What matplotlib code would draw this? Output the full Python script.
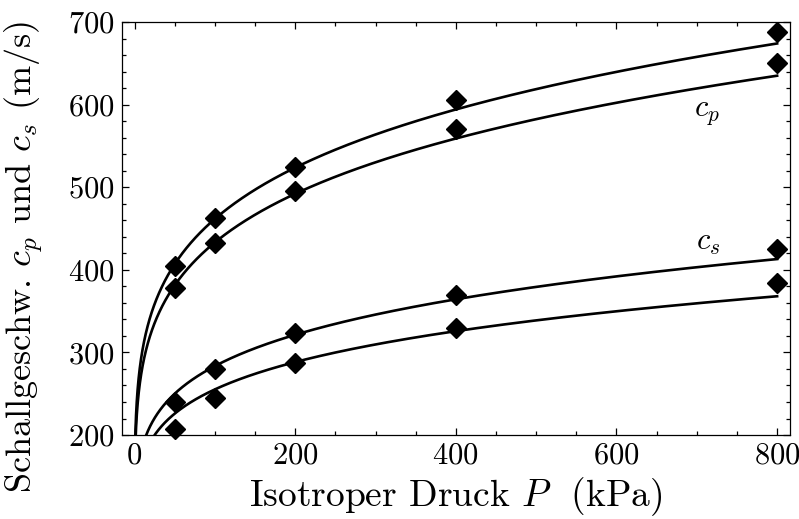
import numpy as np
import matplotlib
matplotlib.use("Agg")
import matplotlib.pyplot as plt
from matplotlib.ticker import MultipleLocator

plt.rcParams['font.family'] = 'cmr10'
plt.rcParams['mathtext.fontset'] = 'cm'
plt.rcParams['axes.unicode_minus'] = False
plt.rcParams['axes.formatter.use_mathtext'] = True

# Measured data (pressure in kPa, speed in m/s)
pressure = [50, 100, 200, 400, 800]
cp_upper = [405, 463, 525, 606, 688]
cp_lower = [378, 433, 496, 571, 650]
cs_upper = [240, 280, 323, 370, 425]
cs_lower = [207, 245, 287, 330, 384]

# Power-law fit curves c = c800 * (P/800)^n
fit_c800 = [674, 635, 413, 368]
fit_n = [0.182, 0.184, 0.181, 0.176]

fig = plt.figure(figsize=(7.99, 5.19), dpi=100)
ax = fig.add_axes([0.1523, 0.1618, 0.8364, 0.7958])

P = np.geomspace(0.01, 800, 3000)
for c800, n in zip(fit_c800, fit_n):
    ax.plot(P, c800 * (P / 800.0) ** n, color='black', lw=1.9, zorder=2)

for series in (cp_upper, cp_lower, cs_upper, cs_lower):
    ax.plot(pressure, series, linestyle='none', marker='D', ms=10,
            color='black', zorder=3, clip_on=False)

ax.text(712, 590, r'$c_p$', fontsize=22, ha='center', va='center')
ax.text(714, 432, r'$c_s$', fontsize=22, ha='center', va='center')

ax.set_xlim(-16, 816)
ax.set_ylim(200, 700)
ax.xaxis.set_major_locator(MultipleLocator(200))
ax.xaxis.set_minor_locator(MultipleLocator(50))
ax.yaxis.set_major_locator(MultipleLocator(100))
ax.yaxis.set_minor_locator(MultipleLocator(20))
ax.tick_params(which='both', direction='in', top=True, right=True,
               labelsize=22, width=0.9)
ax.tick_params(which='major', length=5, pad=5)
ax.tick_params(which='minor', length=3)
for s in ax.spines.values():
    s.set_linewidth(0.9)

ax.set_xlabel(r'Isotroper Druck $P$  (kPa)', fontsize=27, labelpad=4)
ax.set_ylabel(r'Schallgeschw. $c_p$ und $c_s$ (m/s)', fontsize=26)
ax.yaxis.set_label_coords(-0.115, 0.43)

fig.savefig('out.png', dpi=100)
